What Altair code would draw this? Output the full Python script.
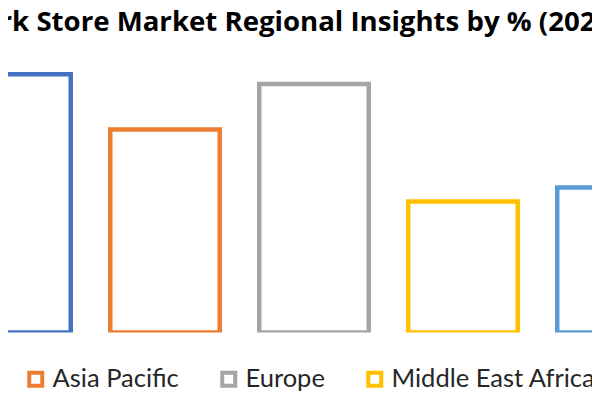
import altair as alt
import pandas as pd

regions = ["North America", "Asia Pacific", "Europe", "Middle East Africa", "South America"]
shares = [26.2, 20.6, 25.2, 13.3, 14.7]
colors = ["#4472C4", "#ED7D31", "#A5A5A5", "#FFC000", "#5B9BD5"]
title_text = "Dark Store Market Regional Insights by % (2023)"

df = pd.DataFrame({"region": regions, "share": shares})

chart = (
    alt.Chart(df)
    .mark_bar(fill="white", strokeWidth=4.5, clip=True)
    .encode(
        x=alt.X("region:N", sort=regions, axis=None,
                scale=alt.Scale(range=[-66.5, 678.5], paddingInner=0.265, paddingOuter=0.1325)),
        y=alt.Y("share:Q", axis=None, scale=alt.Scale(domain=[0, 28.66], nice=False, zero=True)),
        stroke=alt.Stroke(
            "region:N",
            sort=regions,
            scale=alt.Scale(domain=regions, range=colors),
            legend=alt.Legend(
                title=None,
                orient="none",
                direction="horizontal",
                legendX=-217,
                legendY=316,
                symbolType="square",
                symbolSize=169,
                symbolStrokeWidth=4,
                symbolFillColor="white",
                labelFont="Lato",
                labelFontSize=25.5,
                labelColor="#262626",
                labelOffset=4,
                columnPadding=35,
                labelLimit=400,
            ),
        ),
    )
    .properties(
        width=584,
        height=282.5,
        autosize=alt.AutoSizeParams(type="none"),
        padding={"left": 0, "top": 42, "right": 0, "bottom": 59.5},
        title=alt.TitleParams(
            text=title_text,
            font="Open Sans",
            fontSize=27.6,
            fontWeight="bold",
            color="#000000",
            anchor="start",
            frame="group",
            dx=-45.5,
            offset=13,
        ),
    )
    .configure_view(stroke=None)
)

chart.save("out.html", embed_options={"renderer": "svg", "actions": False})
